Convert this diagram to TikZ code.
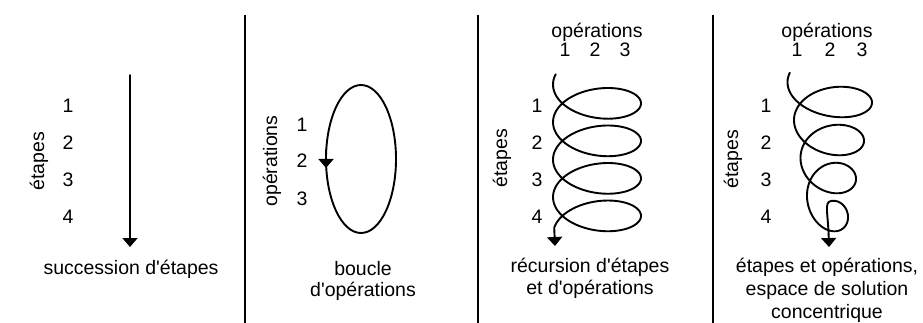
\documentclass[tikz,border=0pt]{standalone}
\usepackage{fontspec}
\setmainfont{Liberation Sans}
\usepackage{tikz}
\usetikzlibrary{arrows.meta,positioning}

\newcommand{\lblfont}{\fontsize{19.5}{22}\selectfont}
\newcommand{\ap}{\textquotesingle{}}

\tikzset{
  lbl/.style={font=\lblfont, inner sep=0pt, anchor=base},
  vlbl/.style={font=\lblfont, inner sep=0pt, rotate=90},
  curve/.style={line width=1.9pt, line cap=round},
  tip/.style={-{Triangle[width=15pt,length=9pt]}},
  sep/.style={line width=2pt}
}

\begin{document}
\begin{tikzpicture}[x=1pt,y=-1pt]
\useasboundingbox (0,0) rectangle (923,323);

% separators
\foreach \xs/\nm in {245/sepA,478/sepB,713/sepC} {
  \coordinate (\nm top) at (\xs,15);
  \coordinate (\nm bot) at (\xs,323);
  \draw[sep] (\nm top) -- (\nm bot);
}

% succession d'etapes
\foreach \n/\yb in {1/113,2/150,3/187,4/223}
  \node[lbl] (sa\n) at (68,\yb) {\n};
\node[vlbl] (sa) at (39,161) {étapes};
\coordinate (succTop) at (130,75);
\coordinate (succEnd) at (130,247);
\draw[curve,tip] (succTop) -- (succEnd);
\node[lbl] (succ) at (131,274) {succession d\ap étapes};

% boucle
\foreach \n/\yb in {1/132,2/168,3/205}
  \node[lbl] (bo\n) at (302,\yb) {\n};
\node[vlbl] (bo) at (272,161) {opérations};
\draw[curve] (361,159) ellipse [x radius=35pt, y radius=74pt];
\coordinate (loopA) at (326,150);
\coordinate (loopB) at (326,168);
\draw[curve,tip] (loopA) -- (loopB);
\node[lbl] (boucle) at (363,275) {boucle};
\node[lbl] (boucleB) at (363,296) {d\ap opérations};

% recursion
\node[lbl] (rcop) at (597,38) {opérations};
\foreach \n/\xo in {1/565,2/595,3/625}
  \node[lbl] (rco\n) at (\xo,57) {\n};
\foreach \n/\yb in {1/113,2/150,3/187,4/223}
  \node[lbl] (rce\n) at (537,\yb) {\n};
\node[vlbl] (rc) at (502,158) {étapes};
\coordinate (recEnd) at (555,246);
\draw[curve,tip] plot[domain=-0.35:24.9,samples=300,variable=\t]
  ({597-44*cos(\t r)},{84.6+5.97*\t+24*sin(\t r)}) -- (recEnd);
\node[lbl] (rec) at (590,272) {récursion d\ap étapes};
\node[lbl] (recB) at (590,294) {et d\ap opérations};

% concentrique
\node[lbl] (ccop) at (827,38) {opérations};
\foreach \n/\xo in {1/797,2/830,3/862}
  \node[lbl] (cco\n) at (\xo,57) {\n};
\foreach \n/\yb in {1/113,2/150,3/187,4/223}
  \node[lbl] (cce\n) at (766,\yb) {\n};
\node[vlbl] (cc) at (733,159) {étapes};
\coordinate (conEnd) at (829,247);
\draw[curve,tip] plot[domain=-0.35:23.45,samples=300,variable=\t]
  ({831.75-0.119*\t-(44.25-1.154*\t)*cos(\t r)},{83+6.05*\t+24*sin(\t r)})
  .. controls (824,202.5) and (828,212) .. (conEnd);
\node[lbl] (con) at (827,272) {étapes et opérations,};
\node[lbl] (conB) at (827,295) {espace de solution};
\node[lbl] (conC) at (827,318) {concentrique};
\end{tikzpicture}
\end{document}
